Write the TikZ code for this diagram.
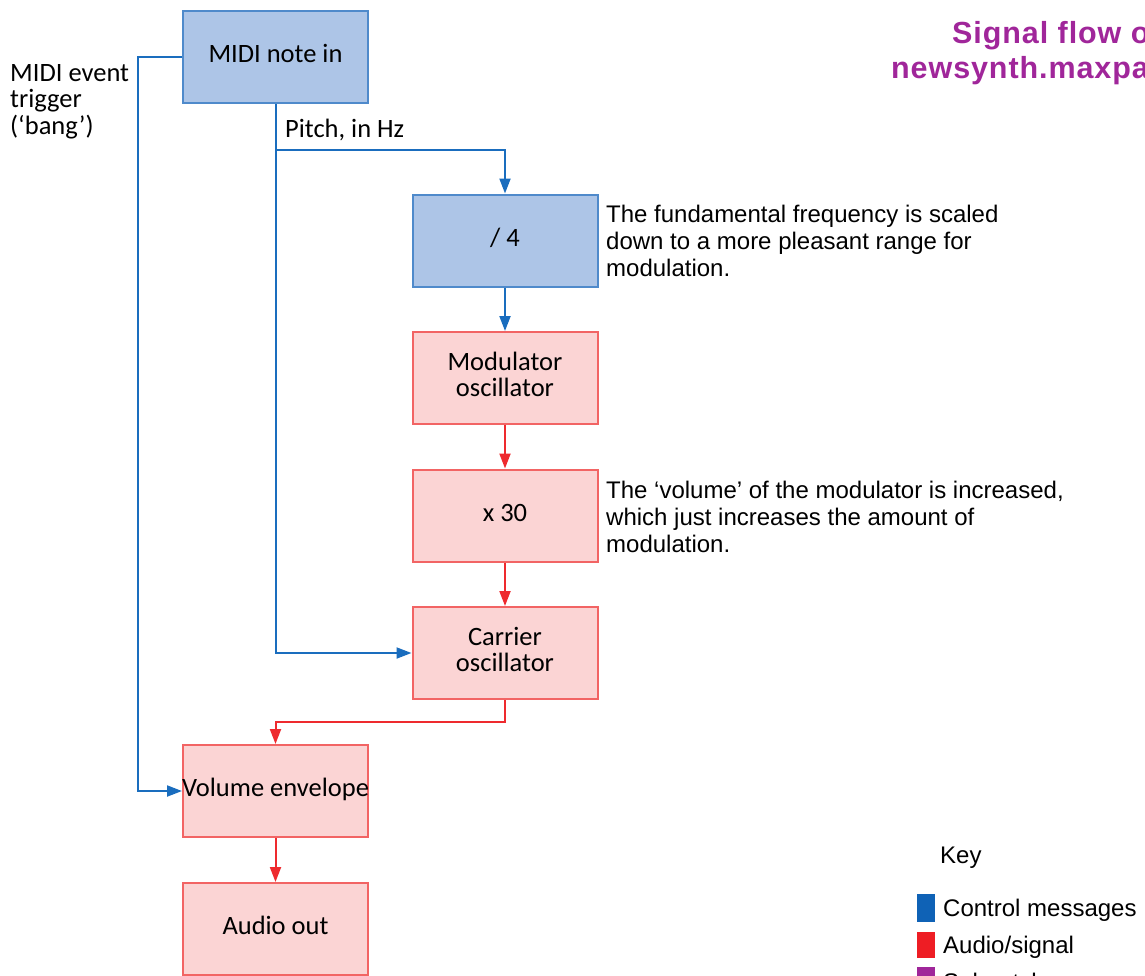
\documentclass[tikz,border=0pt]{standalone}
\usepackage{fontspec}
\usetikzlibrary{arrows.meta}
\newfontfamily\boxfont{Carlito}
\newfontfamily\notefont{Liberation Sans}
\newfontfamily\titlefont[LetterSpace=3]{Liberation Sans}
\definecolor{ctrlline}{HTML}{1A6DBE}
\definecolor{ctrlfill}{HTML}{ADC5E7}
\definecolor{ctrledge}{HTML}{4F8ACB}
\definecolor{audioline}{HTML}{EE2A2E}
\definecolor{audiofill}{HTML}{FBD4D4}
\definecolor{audioedge}{HTML}{F26464}
\definecolor{subcol}{HTML}{A0269A}
\definecolor{keyblue}{HTML}{0F62B6}
\definecolor{keyred}{HTML}{EE1D24}
% line struts that place box text slightly above the box centre
\newcommand\fullstrut{\rule[-9pt]{0pt}{29pt}}
\newcommand\topstrut{\rule{0pt}{20pt}}
\newcommand\botstrut{\rule[-9pt]{0pt}{9pt}}
\begin{document}
\begin{tikzpicture}[x=1pt,y=-1pt,
  block/.style={minimum width=185pt, minimum height=92pt, inner sep=0pt,
    line width=2pt, align=center,
    font=\boxfont\fontsize{26.5}{26}\selectfont},
  ctrl/.style={block, fill=ctrlfill, draw=ctrledge},
  audio/.style={block, fill=audiofill, draw=audioedge},
  tip/.style={-{Triangle[length=15pt,width=11pt]}},
  cline/.style={draw=ctrlline, line width=2pt},
  aline/.style={draw=audioline, line width=2pt},
  lbl/.style={inner sep=0pt, align=left,
    font=\boxfont\fontsize{26.5}{26.5}\selectfont},
  note/.style={inner sep=0pt, align=left,
    font=\notefont\fontsize{24}{27}\selectfont},
  swatch/.style={inner sep=0pt, minimum width=18pt},
  heading/.style={inner sep=0pt, text=subcol,
    font=\titlefont\bfseries\fontsize{30.5}{35}\selectfont}]

\useasboundingbox (0,0) rectangle (1145,975);
\clip (0,0) rectangle (1145,975);

% processing blocks
\node[ctrl]  (midi) at (275.5,57)  {\fullstrut MIDI note in};
\node[ctrl]  (div)  at (505,240.5) {\fullstrut / 4};
\node[audio] (mod)  at (505,378)   {\topstrut Modulator\\oscillator\botstrut};
\node[audio] (mul)  at (505,515.5) {\fullstrut x 30};
\node[audio] (car)  at (505,653)   {\topstrut Carrier\\oscillator\botstrut};
\node[audio] (env)  at (275.5,791) {\fullstrut\makebox[185pt]{Volume envelope}};
\node[audio] (out)  at (275.5,929) {\fullstrut Audio out};

% bend points of the wiring
\coordinate (trig)  at (138,57);
\coordinate (split) at (275.5,150);
\coordinate (mix)   at (505,722);

% control wiring
\draw[cline, tip] (midi.west) -- (trig) |- (env.west);
\draw[cline] (midi.south) -- (split);
\draw[cline, tip] (split) -| (div.north);
\draw[cline, tip] (split) |- (car.west);
\draw[cline, tip] (div.south) -- (mod.north);

% audio wiring
\draw[aline, tip] (mod.south) -- (mul.north);
\draw[aline, tip] (mul.south) -- (car.north);
\draw[aline, tip] (car.south) -- (mix) -| (env.north);
\draw[aline, tip] (env.south) -- (out.north);

% wire labels
\node[lbl, anchor=north west] (triglbl) at (10,64)
  {MIDI event\\trigger\\(‘bang’)};
\node[lbl, anchor=base west] (pitchlbl) at (285,137) {Pitch, in Hz};

% explanatory notes
\node[note, anchor=north west] (note1) at (606,204.5)
  {The fundamental frequency is scaled\\down to a more pleasant range for\\modulation.};
\node[note, anchor=north west] (note2) at (606,480.5)
  {The ‘volume’ of the modulator is increased,\\which just increases the amount of\\modulation.};

% title
\node[heading, anchor=base west] (title1) at (952,43) {Signal flow of};
\node[heading, anchor=base west] (title2) at (891,78) {newsynth.maxpat};

% key
\node[note, anchor=base west] (keyhead) at (940,863) {Key};
\node[swatch, fill=keyblue, minimum height=28pt] (kctrl) at (926,908) {};
\node[swatch, fill=keyred, minimum height=26pt] (kaudio) at (926,945) {};
\node[swatch, fill=subcol, minimum height=26pt] (ksub) at (926,980) {};
\node[note, anchor=base west] (kctrltxt) at (943,916) {Control messages};
\node[note, anchor=base west] (kaudiotxt) at (943,953) {Audio/signal};
\node[note, anchor=base west] (ksubtxt) at (943,990) {Subpatches};
\end{tikzpicture}
\end{document}
